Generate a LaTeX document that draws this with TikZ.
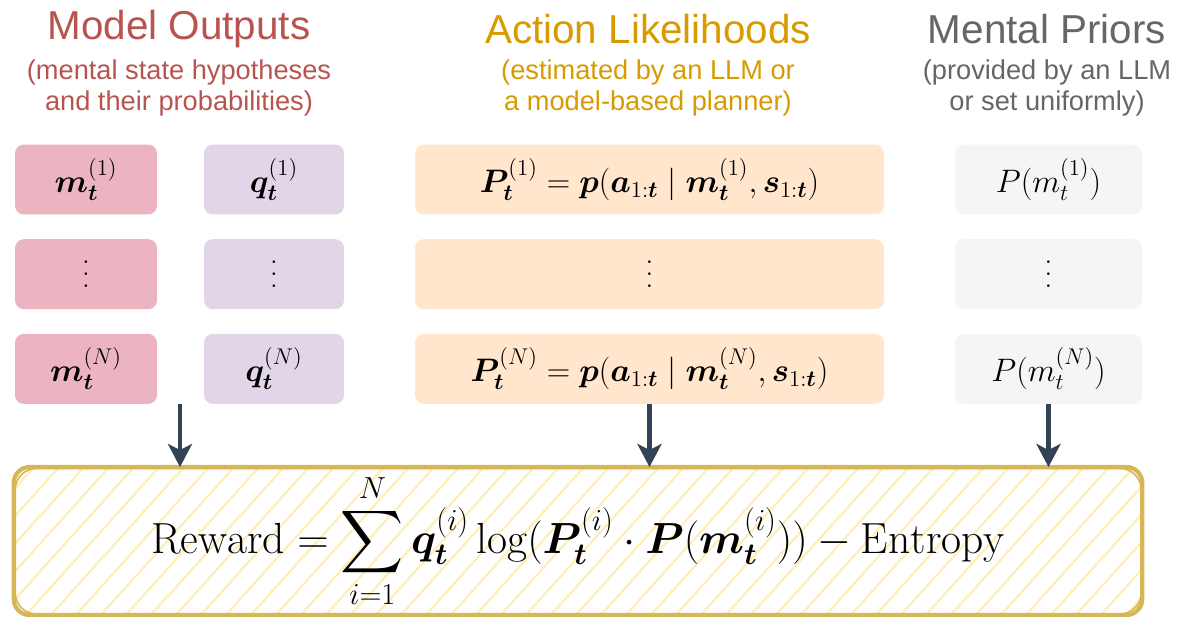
\RequirePackage{fix-cm}
\documentclass[tikz,border=0pt]{standalone}
\usepackage{fontspec}
\setsansfont{Liberation Sans}
\usepackage{amsmath}
\usepackage{bm}
\usepackage{tikz}
\usetikzlibrary{arrows.meta,positioning,calc,backgrounds}
\definecolor{outred}{RGB}{184,84,80}
\definecolor{likegold}{RGB}{215,155,0}
\definecolor{priorgray}{RGB}{102,102,102}
\definecolor{mfill}{RGB}{236,180,192}
\definecolor{qfill}{RGB}{225,213,231}
\definecolor{pfill}{RGB}{255,230,204}
\definecolor{prfill}{RGB}{245,245,245}
\definecolor{arrowblue}{RGB}{49,67,84}
\definecolor{rewardline}{RGB}{214,182,86}
\definecolor{hatchyellow}{RGB}{255,238,184}
\newcommand{\bt}{\bm{t}}
\newcommand{\tallvdots}{\vbox{\baselineskip=7pt\lineskiplimit=0pt\hbox{.}\hbox{.}\hbox{.}}}
\tikzset{
  head/.style={font=\sffamily\fontsize{23}{27}\selectfont},
  subhead/.style={font=\sffamily\fontsize{15.5}{17.2}\selectfont,align=center},
  cell/.style={rounded corners=5pt,inner sep=0pt,minimum height=1.4cm,
               font=\fontsize{18.5}{22}\selectfont},
  sketch/.style={draw=rewardline,rounded corners=9pt},
  arr/.style={-{Stealth[length=0.46cm,width=0.48cm,inset=0.12cm]},
              line width=2.4pt,draw=arrowblue},
}

\begin{document}
\begin{tikzpicture}[x=0.02cm,y=-0.02cm,node distance=0.48cm]
  \useasboundingbox (0,0) rectangle (1184,616);

  % column headers
  \node[head,text=outred] (outT) at (179,29) {Model Outputs};
  \node[subhead,text=outred] (outS) at (179,88) {(mental state hypotheses\\and their probabilities)};
  \node[head,text=likegold] (likeT) at (648,29) {Action Likelihoods};
  \node[subhead,text=likegold] (likeS) at (648,88) {(estimated by an LLM or\\a model-based planner)};
  \node[head,text=priorgray] (priT) at (1047,29) {Mental Priors};
  \node[subhead,text=priorgray] (priS) at (1047,88) {(provided by an LLM\\or set uniformly)};

  % hypotheses and their weights
  \node[cell,fill=mfill,minimum width=2.84cm] (m1) at (86,179.5) {$\bm{m}_{\bt}^{(1)}$};
  \node[cell,fill=mfill,minimum width=2.84cm,below=of m1] (m2) {\tallvdots};
  \node[cell,fill=mfill,minimum width=2.84cm,below=of m2] (mN) {$\bm{m}_{\bt}^{(N)}$};
  \node[cell,fill=qfill,minimum width=2.8cm] (q1) at (274,179.5) {$\bm{q}_{\bt}^{(1)}$};
  \node[cell,fill=qfill,minimum width=2.8cm,below=of q1] (q2) {\tallvdots};
  \node[cell,fill=qfill,minimum width=2.8cm,below=of q2] (qN) {$\bm{q}_{\bt}^{(N)}$};

  % likelihoods
  \node[cell,fill=pfill,minimum width=9.38cm] (P1) at (649.5,179.5)
    {$\bm{P}_{\bt}^{(1)} = \bm{p}(\bm{a}_{1:\bt} \mid \bm{m}_{\bt}^{(1)}, \bm{s}_{1:\bt})$};
  \node[cell,fill=pfill,minimum width=9.38cm,below=of P1] (P2) {\tallvdots};
  \node[cell,fill=pfill,minimum width=9.38cm,below=of P2] (PN)
    {$\bm{P}_{\bt}^{(N)} = \bm{p}(\bm{a}_{1:\bt} \mid \bm{m}_{\bt}^{(N)}, \bm{s}_{1:\bt})$};

  % priors
  \node[cell,fill=prfill,minimum width=3.74cm] (pr1) at (1048.5,179.5) {$P(m_t^{(1)})$};
  \node[cell,fill=prfill,minimum width=3.74cm,below=of pr1] (pr2) {\tallvdots};
  \node[cell,fill=prfill,minimum width=3.74cm,below=of pr2] (prN) {$P(m_t^{(N)})$};

  % reward
  \node[minimum width=22.56cm,minimum height=2.84cm,
        font=\fontsize{24.8}{30}\selectfont] (reward) at (578,541)
    {$\mathrm{Reward} = \displaystyle\sum_{i=1}^{N} \bm{q}_{\bt}^{(i)}
      \log(\bm{P}_{\bt}^{(i)} \cdot \bm{P}(\bm{m}_{\bt}^{(i)})) - \mathrm{Entropy}$};
  \begin{scope}[on background layer]
    \begin{scope}
      \clip[rounded corners=9pt] (reward.south west) rectangle (reward.north east);
      \foreach \hx in {-150,-125,...,1160}
        \draw[hatchyellow,line width=1.3pt] (\hx,616) -- ++(135,-150);
    \end{scope}
  \end{scope}
  \draw[sketch,line width=2.4pt] (reward.south west) rectangle (reward.north east);
  \draw[sketch,line width=0.9pt,rounded corners=12pt] ([shift={(1.5,-1)}]reward.south west)
    rectangle ([shift={(-1,1.5)}]reward.north east);

  % arrows
  \coordinate (mq) at ($(mN.south)!0.5!(qN.south)$);
  \draw[arr] (mq) -- (mq |- reward.north);
  \draw[arr] (PN.south) -- (PN.south |- reward.north);
  \draw[arr] (prN.south) -- (prN.south |- reward.north);
\end{tikzpicture}
\end{document}
